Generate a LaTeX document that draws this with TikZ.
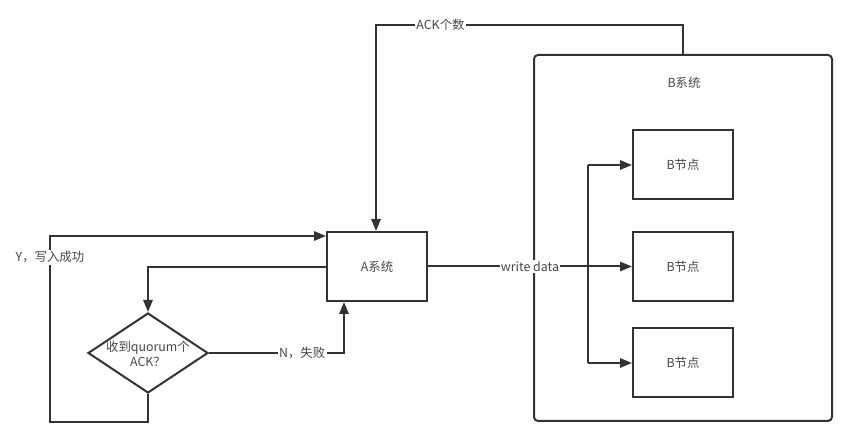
\documentclass[tikz,border=0pt]{standalone}
\usepackage{fontspec}
\setmainfont{Noto Sans CJK SC}
\usetikzlibrary{arrows.meta,shapes.geometric}
\definecolor{ln}{HTML}{333333}
\begin{document}
\begin{tikzpicture}[x=0.75pt,y=-0.75pt,
  line width=1.5pt,
  every node/.style={font=\fontsize{9.3}{11.5}\selectfont, text=ln!90},
  box/.style={draw=ln, rectangle, minimum width=75pt, minimum height=51.75pt, inner sep=0pt},
  dec/.style={draw=ln, diamond, aspect=1.5, minimum width=90pt, minimum height=60pt, inner sep=0pt},
  lbl/.style={fill=white, inner sep=1pt},
  conn/.style={draw=ln, -{Triangle[length=9pt,width=7pt]}},
  plain/.style={draw=ln}]
\useasboundingbox (0,0) rectangle (857,448);
% B system container
\node[draw=ln, rounded corners=3pt, minimum width=223.5pt, minimum height=274.5pt, inner sep=0pt] (bsys) at (683,238) {};
\node (bsyslbl) at (684,83) {B系统};
% nodes
\node[box] (a) at (377,266.5) {A系统};
\node[box] (b1) at (683,164.5) {B节点};
\node[box] (b2) at (683,266.5) {B节点};
\node[box] (b3) at (683,363) {B节点};
\node[dec] (d) at (148,353) {};
\node[align=center] (dtxt) at (148,354) {收到quorum个\\ACK？};
% ACK count
\coordinate (t1) at (683,25);
\coordinate (t2) at (376,25);
\draw[conn] (bsys.north -| t1) -- (t1) -- node[lbl, pos=0.79]{ACK个数} (t2) -- (a.north -| t2);
% A to diamond
\coordinate (c1) at (148,267);
\draw[conn] (a.west |- c1) -- (c1) -- (d.north);
% N fail
\coordinate (n1) at (344,353);
\draw[conn] (d.east) -- node[lbl, pos=0.69]{N，失败} (n1) -- (a.south -| n1);
% Y success
\coordinate (y1) at (148,422);
\coordinate (y2) at (50,422);
\coordinate (y3) at (50,236);
\draw[conn] (d.south) -- (y1) -- (y2) -- node[lbl, pos=0.885]{Y，写入成功} (y3) -- (a.west |- y3);
% write data
\draw[conn] (a.east) -- node[lbl, pos=0.5]{write data} (b2.west);
\coordinate (v1) at (588,165);
\coordinate (v3) at (588,363);
\draw[conn] (v1) -- (b1.west |- v1);
\draw[conn] (v3) -- (b3.west |- v3);
\draw[plain] (v1) -- (v3);
\end{tikzpicture}
\end{document}
